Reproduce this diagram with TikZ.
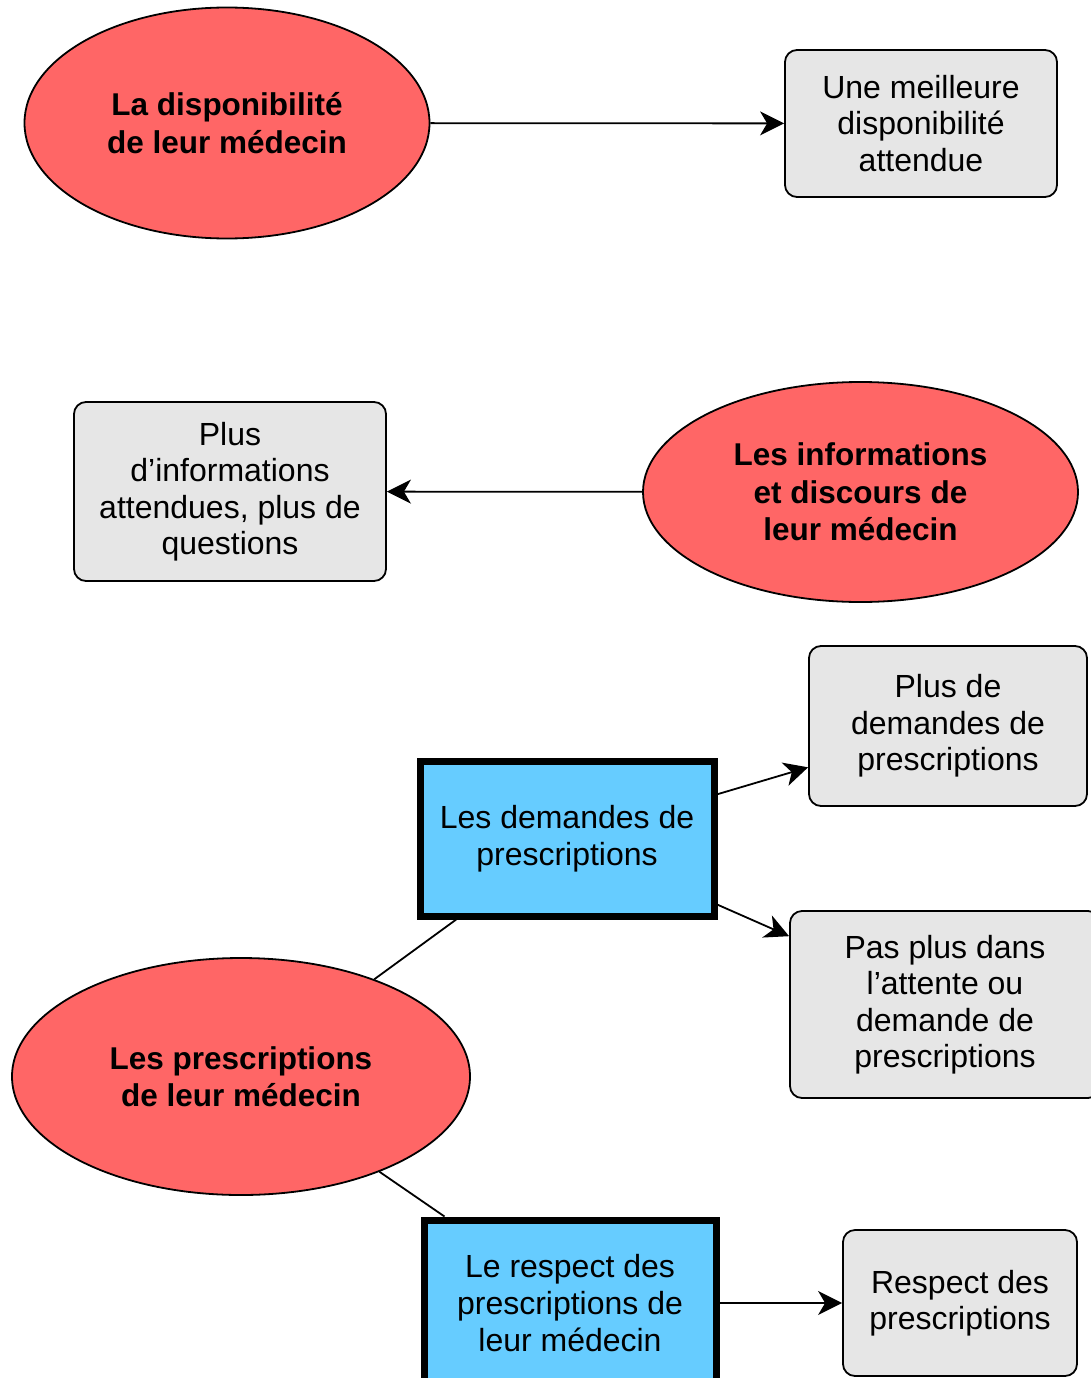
\documentclass[tikz,border=0pt]{standalone}
\usepackage{fontspec}
\setmainfont{Liberation Sans}
\usetikzlibrary{arrows.meta,shapes.geometric}

\definecolor{themered}{HTML}{FF6666}
\definecolor{effectgray}{HTML}{E6E6E6}
\definecolor{aspectblue}{HTML}{66CCFF}

\begin{document}
\begin{tikzpicture}[x=1pt,y=-1pt,
  theme/.style={ellipse,draw,line width=1.8pt,fill=themered,inner sep=0pt,align=center,font=\fontsize{31.5}{37.5}\selectfont\bfseries},
  effect/.style={rectangle,rounded corners=12pt,draw,line width=1.8pt,fill=effectgray,inner sep=0pt,align=center,font=\fontsize{32}{36.5}\selectfont},
  aspect/.style={rectangle,draw,line width=7pt,fill=aspectblue,inner sep=0pt,align=center,font=\fontsize{32}{37}\selectfont},
  link/.style={line width=1.8pt,-{Stealth[length=24pt,width=24pt,inset=7pt]}}]

  \clip (0,0) rectangle (1091,1378);

  % availability
  \node(dispo)    [theme,minimum width=405pt,minimum height=231pt] at (227,123) {La disponibilité\\de leur médecin};
  \node(meilleure)[effect,minimum width=272pt,minimum height=147pt] at (921,123.5) {Une meilleure\\disponibilité\\attendue};
  \draw[link] (dispo) -- (meilleure);

  % information
  \node(infos)    [theme,minimum width=435pt,minimum height=220pt] at (860.5,492) {Les informations\\et discours de\\leur médecin};
  \node(plusinfos)[effect,minimum width=312pt,minimum height=179pt] at (230,491.5) {Plus\\d’informations\\attendues, plus de\\questions};
  \draw[link] (infos) -- (plusinfos);

  % prescriptions
  \node(prescr)   [theme,minimum width=458pt,minimum height=237pt] at (241,1076.5) {Les prescriptions\\de leur médecin};
  \node(demandes) [aspect,minimum width=294pt,minimum height=155pt] at (567,838.5) {Les demandes de\\prescriptions};
  \node(respect)  [aspect,minimum width=292pt,minimum height=166pt] at (570,1303) {Le respect des\\prescriptions de\\leur médecin};
  \node(plusdem)  [effect,minimum width=278pt,minimum height=160pt] at (948,726) {Plus de\\demandes de\\prescriptions};
  \node(pasplus)  [effect,minimum width=310pt,minimum height=187pt] at (945,1004.5) {Pas plus dans\\l’attente ou\\demande de\\prescriptions};
  \node(respectpr)[effect,minimum width=234pt,minimum height=146pt] at (960,1303) {Respect des\\prescriptions};

  \draw[line width=1.8pt] (prescr) -- (demandes);
  \draw[line width=1.8pt] (prescr) -- (respect);
  \draw[link] (demandes) -- (plusdem);
  \draw[link] (demandes) -- (pasplus);
  \draw[link] (respect) -- (respectpr);
\end{tikzpicture}
\end{document}
